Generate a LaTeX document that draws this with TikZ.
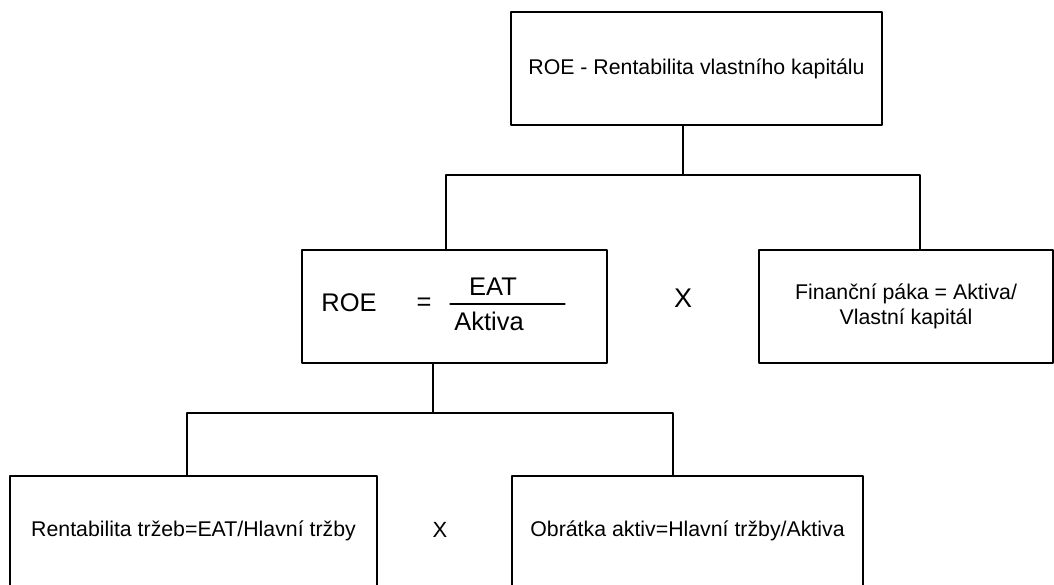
\documentclass[tikz,border=0pt]{standalone}
\usepackage{fontspec}
\setmainfont{Liberation Sans}

\begin{document}
\begin{tikzpicture}[line cap=round,line join=round,x=1pt,y=-1pt,
    box/.style={draw,line width=1.2pt,minimum width=#1,minimum height=113pt,inner sep=0pt,align=center,font=\fontsize{21.3}{25}\selectfont},
    link/.style={line width=1.2pt},
    big/.style={inner sep=0pt,font=\fontsize{25.5}{28}\selectfont}]
    
    \useasboundingbox (0,0) rectangle (1054,585);
    \clip (0,0) rectangle (1054,585);
    
    % boxes
    \node[box=371pt] (roe) at (696.5,68.5) {ROE - Rentabilita vlastního kapitálu};
    \node[box=305pt] (dupont) at (454.5,306.5) {};
    \node[box=294pt] (paka) at (906,306.5) {Finanční páka = Aktiva/\\Vlastní kapitál};
    \node[box=367pt,minimum height=110pt] (trzby) at (193.5,531) {Rentabilita tržeb=EAT/Hlavní tržby};
    \node[box=351pt,minimum height=110pt] (obratka) at (687.5,531) {Obrátka aktiv=Hlavní tržby/Aktiva};
    
    % ROE = EAT / Aktiva
    \node[big] (roetxt) at (349,303) {ROE};
    \node[big] (eq) at (424,304) {=};
    \node[big] (eat) at (493,287) {EAT};
    \node[big] (akt) at (489,321) {Aktiva};
    \coordinate (barl) at (450,304);
    \coordinate (barr) at (565,304);
    \draw[link] (barl) -- (barr);
    
    % krat
    \node[inner sep=0pt,font=\fontsize{27}{30}\selectfont] (times1) at (683,298) {X};
    \node[inner sep=0pt,font=\fontsize{22}{25}\selectfont] (times2) at (440,530) {X};
    
    % connectors
    \coordinate (j1) at (683,175);
    \coordinate (b1l) at (446,175);
    \coordinate (b1r) at (920,175);
    \draw[link] (roe.south -| j1) -- (j1);
    \draw[link] (dupont.north -| b1l) -- (b1l) -- (b1r) -- (paka.north -| b1r);
    
    \coordinate (j2) at (433,413);
    \coordinate (b2l) at (187,413);
    \coordinate (b2r) at (673,413);
    \draw[link] (dupont.south -| j2) -- (j2);
    \draw[link] (trzby.north -| b2l) -- (b2l) -- (b2r) -- (obratka.north -| b2r);
    \end{tikzpicture}
\end{document}
